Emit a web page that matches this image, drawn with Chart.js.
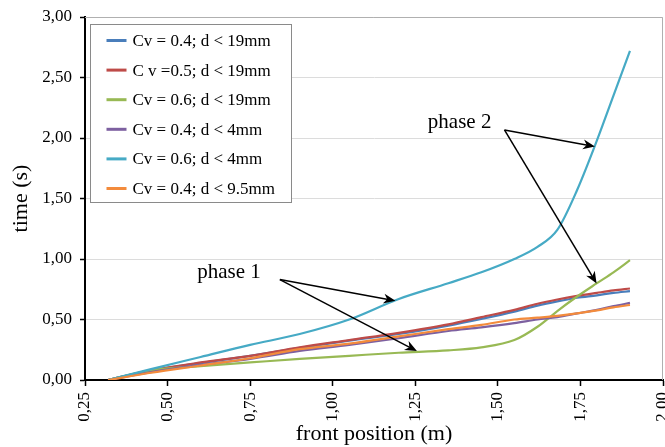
<!DOCTYPE html>
<html>
<head>
<meta charset="utf-8">
<script src="https://cdn.jsdelivr.net/npm/chart.js@4"></script>
<style>
  html, body { margin: 0; padding: 0; background: #fff; }
  #wrap { width: 665px; height: 447px; }
</style>
</head>
<body>
<div id="wrap"><canvas id="chart" width="665" height="447"></canvas></div>
<script>
// front position (m) where each curve was read
const frontPos = [0.32, 0.45, 0.60, 0.75, 0.90, 1.05, 1.20, 1.35, 1.45, 1.55, 1.62, 1.68, 1.74, 1.80, 1.85, 1.90];

// time (s) per series
const cv04d19  = [0, 0.08, 0.14, 0.20, 0.265, 0.325, 0.38, 0.45, 0.505, 0.565, 0.615, 0.65, 0.68, 0.70, 0.72, 0.734];
const cv05d19  = [0, 0.08, 0.145, 0.20, 0.27, 0.33, 0.39, 0.46, 0.52, 0.58, 0.63, 0.665, 0.695, 0.72, 0.74, 0.756];
const cv06d19  = [0, 0.08, 0.115, 0.145, 0.175, 0.20, 0.225, 0.245, 0.27, 0.33, 0.44, 0.57, 0.69, 0.80, 0.89, 0.99];
const cv04d4   = [0, 0.065, 0.125, 0.175, 0.24, 0.29, 0.345, 0.405, 0.435, 0.47, 0.50, 0.52, 0.55, 0.58, 0.61, 0.637];
const cv06d4   = [0, 0.09, 0.19, 0.29, 0.38, 0.50, 0.67, 0.80, 0.89, 1.00, 1.10, 1.24, 1.57, 1.98, 2.35, 2.72];
const cv04d95  = [0, 0.06, 0.12, 0.18, 0.255, 0.30, 0.36, 0.42, 0.455, 0.50, 0.515, 0.53, 0.55, 0.575, 0.60, 0.62];

const seriesLabels = ['Cv = 0.4; d < 19mm', 'C v =0.5; d < 19mm', 'Cv = 0.6; d < 19mm',
                      'Cv = 0.4; d < 4mm', 'Cv = 0.6; d < 4mm', 'Cv = 0.4; d < 9.5mm'];
const seriesValues = [cv04d19, cv05d19, cv06d19, cv04d4, cv06d4, cv04d95];
const seriesColors = ['#4a7ebb', '#be4b48', '#98b954', '#7d60a0', '#46aac5', '#f38b3c'];

// tick labels (comma decimals)
const xTickLabels = { 0.25: '0,25', 0.5: '0,50', 0.75: '0,75', 1: '1,00', 1.25: '1,25', 1.5: '1,50', 1.75: '1,75', 2: '2,00' };
const yTickLabels = { 0: '0,00', 0.5: '0,50', 1: '1,00', 1.5: '1,50', 2: '2,00', 2.5: '2,50', 3: '3,00' };

// annotations in data units: text anchor, arrow start, arrow targets
const annotations = [
  { text: 'phase 1', at: [0.59, 0.89], from: [0.84, 0.83], to: [[1.19, 0.654], [1.255, 0.239]] },
  { text: 'phase 2', at: [1.288, 2.127], from: [1.52, 2.067], to: [[1.794, 1.929], [1.799, 0.797]] }
];

const serif = "'Liberation Serif', 'Times New Roman', serif";

const datasets = seriesValues.map((vals, i) => ({
  label: seriesLabels[i],
  data: frontPos.map((x, j) => ({ x: x, y: vals[j] })),
  borderColor: seriesColors[i],
  backgroundColor: seriesColors[i],
  borderWidth: 2.2,
  pointRadius: 0,
  tension: 0.3,
  cubicInterpolationMode: 'monotone',
  fill: false,
  order: seriesValues.length - i
}));

function drawArrow(ctx, x1, y1, x2, y2) {
  const ang = Math.atan2(y2 - y1, x2 - x1);
  const len = 12, half = 5;
  ctx.beginPath();
  ctx.moveTo(x1, y1);
  ctx.lineTo(x2 - Math.cos(ang) * 6, y2 - Math.sin(ang) * 6);
  ctx.stroke();
  ctx.save();
  ctx.translate(x2, y2);
  ctx.rotate(ang);
  ctx.beginPath();
  ctx.moveTo(0, 0);
  ctx.lineTo(-len, -half);
  ctx.lineTo(-len * 0.7, 0);
  ctx.lineTo(-len, half);
  ctx.closePath();
  ctx.fill();
  ctx.restore();
}

const extras = {
  id: 'extras',
  beforeDatasetsDraw(chart) {
    const { ctx, chartArea: a } = chart;
    ctx.save();
    ctx.strokeStyle = '#b0b0b0';
    ctx.lineWidth = 1;
    ctx.beginPath();
    ctx.moveTo(a.left, a.top + 0.5);
    ctx.lineTo(a.right - 0.5, a.top + 0.5);
    ctx.lineTo(a.right - 0.5, a.bottom);
    ctx.stroke();
    ctx.restore();
  },
  afterDraw(chart) {
    const { ctx, chartArea: a, scales } = chart;
    const sx = scales.x, sy = scales.y;
    ctx.save();

    // legend box
    const bx = a.left + 5.5, by = a.top + 7.5, bw = 201, bh = 178;
    ctx.fillStyle = '#fff';
    ctx.fillRect(bx, by, bw, bh);
    ctx.strokeStyle = '#8a8a8a';
    ctx.lineWidth = 1;
    ctx.strokeRect(bx, by, bw, bh);
    ctx.font = '17px ' + serif;
    ctx.textBaseline = 'middle';
    ctx.textAlign = 'left';
    chart.data.datasets.forEach((ds, i) => {
      const yy = by + 16 + i * 29.6;
      ctx.strokeStyle = ds.borderColor;
      ctx.lineWidth = 3;
      ctx.beginPath();
      ctx.moveTo(bx + 16, yy);
      ctx.lineTo(bx + 36, yy);
      ctx.stroke();
      ctx.fillStyle = '#000';
      ctx.fillText(ds.label, bx + 42, yy + 1);
    });

    // phase annotations
    ctx.fillStyle = '#000';
    ctx.strokeStyle = '#000';
    ctx.lineWidth = 1.5;
    ctx.font = '21px ' + serif;
    annotations.forEach(an => {
      ctx.fillText(an.text, sx.getPixelForValue(an.at[0]), sy.getPixelForValue(an.at[1]));
      const x1 = sx.getPixelForValue(an.from[0]), y1 = sy.getPixelForValue(an.from[1]);
      an.to.forEach(t => drawArrow(ctx, x1, y1, sx.getPixelForValue(t[0]), sy.getPixelForValue(t[1])));
    });
    ctx.restore();
  }
};

new Chart(document.getElementById('chart'), {
  type: 'line',
  data: { datasets: datasets },
  options: {
    responsive: false,
    animation: false,
    events: [],
    layout: { padding: { top: 17, right: 2, left: 0, bottom: 0 } },
    plugins: { legend: { display: false }, tooltip: { enabled: false } },
    scales: {
      x: {
        type: 'linear',
        min: 0.25,
        max: 2.0,
        afterFit(scale) {
          scale.height = 67;
          scale.paddingLeft = 0;
          scale.paddingRight = 0;
        },
        ticks: {
          stepSize: 0.25,
          minRotation: 90,
          maxRotation: 90,
          padding: 6,
          color: '#000',
          font: { family: serif, size: 17 },
          callback: v => xTickLabels[v] ?? ''
        },
        grid: { drawOnChartArea: false, tickColor: '#000', tickLength: 6, tickWidth: 1.5 },
        border: { color: '#000', width: 2 },
        title: {
          display: true,
          text: 'front position (m)',
          color: '#000',
          font: { family: serif, size: 22 },
          padding: { top: 0, bottom: 0 }
        }
      },
      y: {
        min: 0,
        max: 3,
        afterFit(scale) {
          scale.width = 85;
          scale.paddingTop = 0;
          scale.paddingBottom = 0;
        },
        ticks: {
          stepSize: 0.5,
          padding: 8,
          color: '#000',
          font: { family: serif, size: 17 },
          callback: v => yTickLabels[v] ?? ''
        },
        grid: { color: '#dcdcdc', lineWidth: 1, tickColor: '#000', tickLength: 5, tickWidth: 1.5 },
        border: { color: '#000', width: 2 },
        title: {
          display: true,
          text: 'time (s)',
          color: '#000',
          font: { family: serif, size: 22 },
          padding: { top: 8, bottom: 0 }
        }
      }
    }
  },
  plugins: [extras]
});
</script>
</body>
</html>
